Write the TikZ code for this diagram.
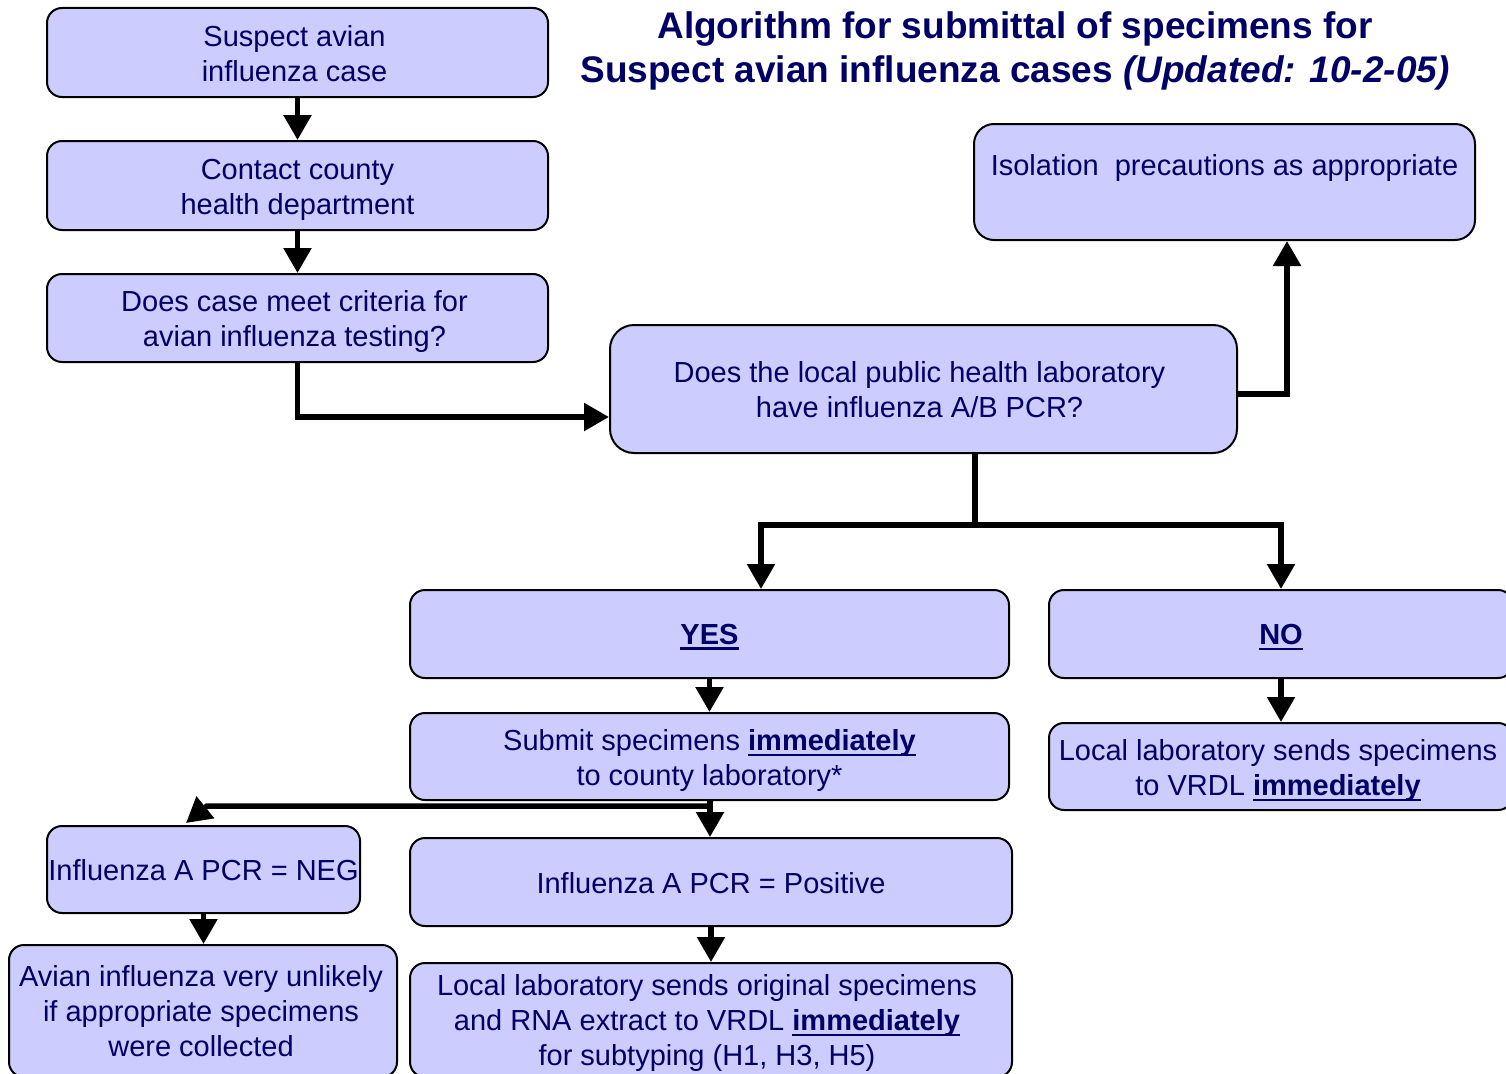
\documentclass[tikz,border=0pt]{standalone}
\usepackage{fontspec}
\setmainfont{Liberation Sans}
\usetikzlibrary{arrows.meta}
\definecolor{boxfill}{HTML}{CCCCFF}
\definecolor{navy}{HTML}{000066}
\newcommand{\bodyfont}{\fontsize{29pt}{35pt}\selectfont}
\newcommand{\titlefont}{\fontsize{37pt}{44pt}\selectfont\bfseries}
\newcommand{\ubf}[1]{\textbf{\setbox0=\hbox{#1}\rlap{\rule[-5.5pt]{\wd0}{2.5pt}}\box0}}
\tikzset{
  box/.style={draw=black, line width=2pt, rounded corners=15pt, fill=boxfill, inner sep=0pt},
  txt/.style={text=navy, align=center, font=\bodyfont, inner sep=0pt},
  ttl/.style={text=navy, font=\titlefont, inner sep=0pt, anchor=base},
  conn/.style={draw=black, line width=5.5pt},
  arr/.style={conn, -{Triangle[length=25pt,width=27pt]}}
}
\begin{document}
\begin{tikzpicture}[x=1pt,y=-1pt]
\useasboundingbox (0,0) rectangle (1506,1073);
\clip (0,0) rectangle (1506,1073);

% title
\node[ttl] (t1) at (1015,38) {Algorithm for submittal of specimens for};
\node[ttl] (t2) at (1015,82) {Suspect avian influenza cases \textit{(Updated: 10-2-05)}};

% boxes
\node[box, minimum width=501pt, minimum height=89pt] (b1) at (297.5,52.5) {};
\node[box, minimum width=501pt, minimum height=89pt] (b2) at (297.5,185.5) {};
\node[box, minimum width=501pt, minimum height=88pt] (b3) at (297.5,318) {};
\node[box, rounded corners=24pt, minimum width=627pt, minimum height=128pt] (b4) at (923.5,389) {};
\node[box, rounded corners=20pt, minimum width=501pt, minimum height=116pt] (iso) at (1224.5,182) {};
\node[box, minimum width=599pt, minimum height=88pt] (yes) at (709.5,634) {};
\node[box, minimum width=464pt, minimum height=88pt] (no) at (1281,634) {};
\node[box, minimum width=599pt, minimum height=87pt] (submit) at (709.5,756.5) {};
\node[box, minimum width=464pt, minimum height=87pt] (lno) at (1281,766.5) {};
\node[box, minimum width=313pt, minimum height=87pt] (neg) at (203.5,869.5) {};
\node[box, minimum width=602pt, minimum height=88pt] (pos) at (711,882) {};
\node[box, minimum width=388pt, minimum height=132pt] (avian) at (203,1011) {};
\node[box, minimum width=602pt, minimum height=114pt] (lorig) at (711,1020) {};

% texts
\node[txt] (b1T) at ([xshift=-3pt,yshift=-1.5pt]b1.center) {Suspect avian\\influenza case};
\node[txt] (b2T) at ([yshift=-4pt]b2.center) {Contact county\\health department};
\node[txt] (b3T) at ([xshift=-3pt,yshift=-3pt]b3.center) {Does case meet criteria for\\avian influenza testing?};
\node[txt] (b4T) at ([xshift=-4pt,yshift=-1pt]b4.center) {Does the local public health laboratory\\have influenza A/B PCR?};
\node[txt, anchor=base] (isoT) at (1224.5,175) {Isolation\ \ precautions as appropriate};
\node[txt] (yesT) at ([yshift=-3pt]yes.center) {\ubf{YES}};
\node[txt] (noT) at ([yshift=-3.5pt]no.center) {\ubf{NO}};
\node[txt] (submitT) at ([yshift=-4pt]submit.center) {Submit specimens \ubf{immediately}\\to county laboratory*};
\node[txt] (lnoT) at ([xshift=-3pt,yshift=-4pt]lno.center) {Local laboratory sends specimens\\to VRDL \ubf{immediately}};
\node[txt] (negT) at ([yshift=-1pt]neg.center) {Influenza A PCR = NEG};
\node[txt] (posT) at ([yshift=-1pt]pos.center) {Influenza A PCR = Positive};
\node[txt] (avianT) at ([xshift=-2pt]avian.center) {Avian influenza very unlikely\\if appropriate specimens\\were collected};
\node[txt] (lorigT) at ([xshift=-4pt,yshift=-3pt]lorig.center) {Local laboratory sends original specimens\\and RNA extract to VRDL \ubf{immediately}\\for subtyping (H1, H3, H5)};

% connectors
\draw[arr] (b1) -- (b2);
\draw[arr] (b2) -- (b3);
\draw[arr] (b3.south) |- ([yshift=-28pt]b4.west);
\draw[arr] ([yshift=-5pt]b4.east) -| ([xshift=62.5pt]iso.south);
\coordinate (split) at (975,525);
\draw[conn] ([xshift=51.5pt]b4.south) -- (split);
\draw[arr] (split) -| ([xshift=51.5pt]yes.north);
\draw[arr] (split) -| (no.north);
\draw[arr] (yes.south) -- (yes.south |- submit.north);
\draw[arr] (no.south) -- (no.south |- lno.north);
\draw[arr] ([xshift=0.5pt]submit.south) -- ([xshift=0.5pt]submit.south |- pos.north);
\coordinate (negbend) at (207,806);
\coordinate (negtip) at (186,823);
\draw[arr] ([xshift=0.5pt]submit.south) |- (negbend) -- (negtip);
\draw[arr] (neg.south) -- (neg.south |- avian.north);
\draw[arr] (pos.south) -- (pos.south |- lorig.north);
\end{tikzpicture}
\end{document}
